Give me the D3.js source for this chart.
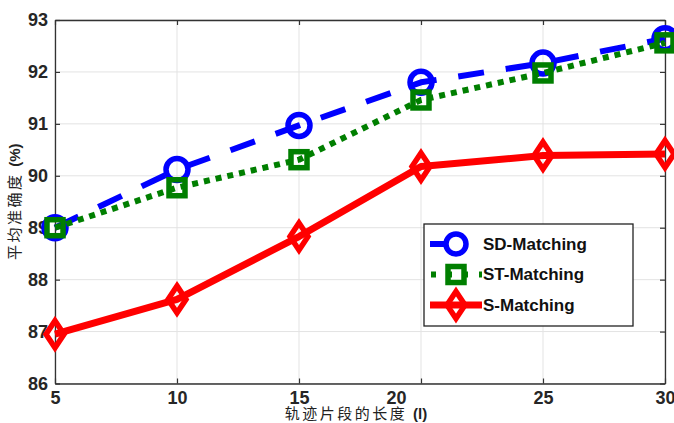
<!DOCTYPE html>
<html>
<head>
<meta charset="utf-8">
<script src="https://cdn.jsdelivr.net/npm/d3@7"></script>
<style>
  body { margin: 0; background: #fff; }
  svg { display: block; }
</style>
</head>
<body>
<div id="chart"></div>
<script>
const lengths = [5, 10, 15, 20, 25, 30];
const sdMatching = [89.0, 90.12, 90.97, 91.8, 92.17, 92.64];
const stMatching = [89.0, 89.77, 90.31, 91.46, 91.98, 92.56];
const sMatching = [86.95, 87.62, 88.83, 90.18, 90.39, 90.42];
const yTicks = [86, 87, 88, 89, 90, 91, 92, 93];
const seriesNames = ["SD-Matching", "ST-Matching", "S-Matching"];

const W = 674, H = 423;
const margin = { top: 20, right: 9, bottom: 40, left: 55 };
const width = W - margin.left - margin.right;
const height = 383.5 - margin.top;

const svg = d3.select('#chart').append('svg')
  .attr('width', W)
  .attr('height', H);

const g = svg.append('g')
  .attr('transform', `translate(${margin.left},${margin.top})`);

const x = d3.scaleLinear().domain([5, 30]).range([0, width]);
const y = d3.scaleLinear().domain([86, 93]).range([height, 0]);

// grid
g.append('g').selectAll('line').data(lengths).join('line')
  .attr('x1', d => x(d)).attr('x2', d => x(d))
  .attr('y1', 0).attr('y2', height)
  .attr('stroke', '#e3e3e3').attr('stroke-width', 1);
g.append('g').selectAll('line').data(yTicks).join('line')
  .attr('y1', d => y(d)).attr('y2', d => y(d))
  .attr('x1', 0).attr('x2', width)
  .attr('stroke', '#e3e3e3').attr('stroke-width', 1);

// axes
const fontTick = 'bold 18px "Liberation Sans", Arial, sans-serif';
const xAxis = g.append('g')
  .attr('transform', `translate(0,${height})`)
  .call(d3.axisBottom(x).tickValues(lengths).tickFormat(d3.format('d'))
    .tickSizeInner(-5).tickSizeOuter(0).tickPadding(8));
xAxis.selectAll('text').style('font', fontTick).attr('fill', '#262626')
  .attr('dx', d => d === 20 ? -25 : 0);

const yAxis = g.append('g')
  .call(d3.axisLeft(y).tickValues(yTicks).tickFormat(d3.format('d'))
    .tickSizeInner(-5).tickSizeOuter(0).tickPadding(7));
yAxis.selectAll('text').style('font', fontTick).attr('fill', '#262626');

g.append('g')
  .call(d3.axisTop(x).tickValues(lengths).tickSizeInner(-5).tickSizeOuter(0).tickFormat(''));
g.append('g')
  .attr('transform', `translate(${width},0)`)
  .call(d3.axisRight(y).tickValues(yTicks).tickSizeInner(-5).tickSizeOuter(0).tickFormat(''));

g.selectAll('.domain').attr('stroke', '#333').attr('stroke-width', 1.3);
g.selectAll('.tick line').attr('stroke', '#333').attr('stroke-width', 1.2);

// axis titles
svg.append('text')
  .attr('x', margin.left + width / 2 - 4)
  .attr('y', 419)
  .attr('text-anchor', 'middle')
  .style('font-family', '"Noto Sans CJK SC", sans-serif')
  .style('font-size', '15px')
  .style('letter-spacing', '2.5px')
  .attr('fill', '#222')
  .html('轨迹片段的长度 <tspan style="font-weight:bold;font-family:\'Liberation Sans\',Arial;letter-spacing:0">(l)</tspan>');

svg.append('text')
  .attr('transform', `translate(20,${margin.top + height / 2}) rotate(-90)`)
  .attr('text-anchor', 'middle')
  .style('font-family', '"Noto Sans CJK SC", sans-serif')
  .style('font-size', '15px')
  .style('letter-spacing', '2.5px')
  .attr('fill', '#222')
  .html('平均准确度 <tspan style="font-weight:bold;font-family:\'Liberation Sans\',Arial;letter-spacing:0">(%)</tspan>');

// series
const series = [
  { name: seriesNames[0], values: sdMatching, color: '#0000ff', dash: '26,22', width: 6, marker: 'circle' },
  { name: seriesNames[1], values: stMatching, color: '#007f00', dash: '6,6', width: 6, marker: 'square' },
  { name: seriesNames[2], values: sMatching, color: '#ff0000', dash: null, width: 7, marker: 'diamond' }
];

const line = d3.line().x(d => x(d[0])).y(d => y(d[1]));

function drawMarker(sel, type, color) {
  if (type === 'circle') {
    sel.append('circle').attr('r', 11)
      .attr('fill', 'none').attr('stroke', color).attr('stroke-width', 5.5);
  } else if (type === 'square') {
    sel.append('rect').attr('x', -8).attr('y', -8).attr('width', 16).attr('height', 16)
      .attr('fill', 'none').attr('stroke', color).attr('stroke-width', 5.5);
  } else {
    sel.append('path').attr('d', 'M0,-13.5L9,0L0,13.5L-9,0Z')
      .attr('fill', 'none').attr('stroke', color).attr('stroke-width', 5.5)
      .attr('stroke-linejoin', 'miter');
  }
}

series.forEach(s => {
  const pts = lengths.map((l, i) => [l, s.values[i]]);
  g.append('path')
    .datum(pts)
    .attr('d', line)
    .attr('fill', 'none')
    .attr('stroke', s.color)
    .attr('stroke-width', s.width)
    .attr('stroke-dasharray', s.dash)
    .attr('stroke-linejoin', 'round');
  pts.forEach(p => {
    const m = g.append('g').attr('transform', `translate(${x(p[0])},${y(p[1])})`);
    drawMarker(m, s.marker, s.color);
  });
});

// legend
const legend = svg.append('g').attr('transform', 'translate(424,224)');
legend.append('rect')
  .attr('width', 209).attr('height', 102)
  .attr('fill', '#fff').attr('stroke', '#222').attr('stroke-width', 1.3);

series.forEach((s, i) => {
  const ly = 20 + i * 30.5;
  const row = legend.append('g').attr('transform', `translate(0,${ly})`);
  row.append('line')
    .attr('x1', 6).attr('x2', 58).attr('y1', 0).attr('y2', 0)
    .attr('stroke', s.color).attr('stroke-width', s.width)
    .attr('stroke-dasharray', s.dash ? (s.marker === 'circle' ? '16,40' : '5,11') : null)
    .attr('stroke-dashoffset', s.marker === 'square' ? -1 : 0);
  const m = row.append('g').attr('transform', 'translate(32,0)');
  drawMarker(m, s.marker, s.color);
  if (s.marker === 'circle') m.select('circle').attr('r', 10);
  row.append('text')
    .attr('x', 59).attr('y', 0).attr('dy', '0.35em')
    .style('font', 'bold 17px "Liberation Sans", Arial, sans-serif')
    .attr('fill', '#111')
    .text(s.name);
});
</script>
</body>
</html>
